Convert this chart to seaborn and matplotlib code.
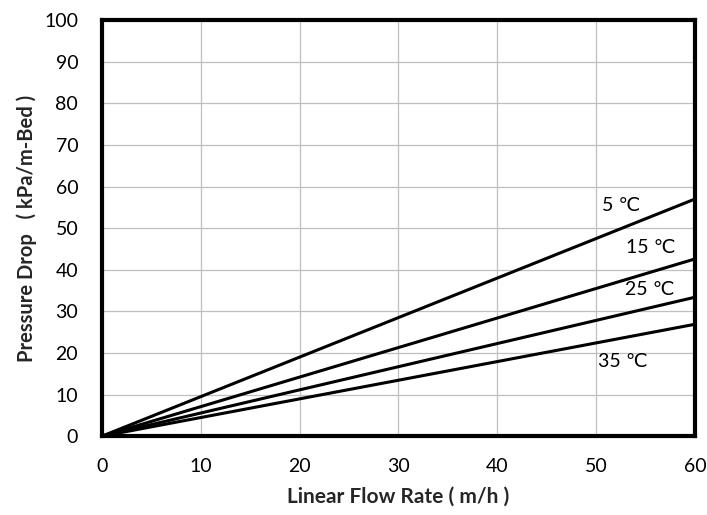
import matplotlib
matplotlib.use("Agg")
import matplotlib.pyplot as plt
import seaborn as sns
import pandas as pd

# Data
temps = ["5 ℃", "15 ℃", "25 ℃", "35 ℃"]
flow_rate = [0, 60]
drop_5 = [0, 57.0]
drop_15 = [0, 42.6]
drop_25 = [0, 33.4]
drop_35 = [0, 26.9]
label_x = [50.6, 53.0, 52.9, 50.2]
label_y = [55.5, 45.3, 35.3, 18.0]

series = [drop_5, drop_15, drop_25, drop_35]
rows = []
for t, vals in zip(temps, series):
    for x, y in zip(flow_rate, vals):
        rows.append({"temp": t, "x": x, "y": y})
df = pd.DataFrame(rows)

sns.set_theme(style="white")
plt.rcParams['font.family'] = ['Lato', 'DejaVu Sans']

fig = plt.figure(figsize=(7.07, 5.15), dpi=100)
ax = fig.add_axes([0.144, 0.153, 0.839, 0.808])

sns.lineplot(data=df, x="x", y="y", units="temp", estimator=None,
             color="black", linewidth=2.2, ax=ax, legend=False)

for t, lx, ly in zip(temps, label_x, label_y):
    ax.text(lx, ly, t, fontsize=14, color="black", va="center", ha="left",
            family=['Lato', 'DejaVu Sans'])

ax.set_xlim(0, 60)
ax.set_ylim(0, 100)
ax.set_xticks(range(0, 61, 10))
ax.set_yticks(range(0, 101, 10))
ax.grid(True, color="#bfbfbf", linewidth=0.9)
ax.set_axisbelow(True)
for s in ax.spines.values():
    s.set_color("black")
    s.set_linewidth(3)
    s.set_visible(True)
ax.tick_params(axis="both", direction="in", length=5, width=3, colors="black",
               labelsize=14)
ax.tick_params(axis="x", pad=16)
ax.tick_params(axis="y", pad=17)
ax.set_xlabel("Linear Flow Rate ( m/h )", fontsize=15, fontweight="bold", labelpad=8)
ax.set_ylabel("Pressure Drop   ( kPa/m-Bed )", fontsize=14.5, fontweight="bold", labelpad=5)

fig.savefig("out.png", dpi=100)
